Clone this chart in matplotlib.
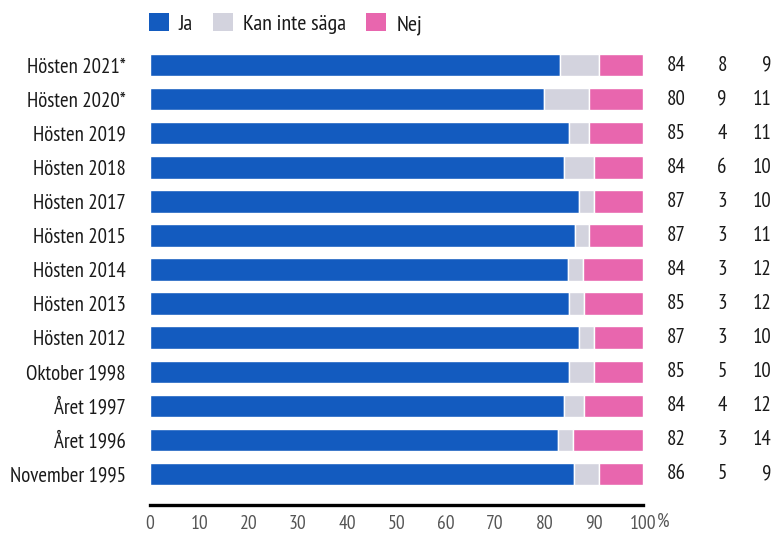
import numpy as np
import matplotlib.pyplot as plt
from matplotlib.patches import Patch

labels = ["Hösten 2021*", "Hösten 2020*", "Hösten 2019", "Hösten 2018", "Hösten 2017",
          "Hösten 2015", "Hösten 2014", "Hösten 2013", "Hösten 2012", "Oktober 1998",
          "Året 1997", "Året 1996", "November 1995"]
ja  = np.array([84, 80, 85, 84, 87, 87, 84, 85, 87, 85, 84, 82, 86])
kan = np.array([8, 9, 4, 6, 3, 3, 3, 3, 3, 5, 4, 3, 5])
nej = np.array([9, 11, 11, 10, 10, 11, 12, 12, 10, 10, 12, 14, 9])
ticks = [0, 10, 20, 30, 40, 50, 60, 70, 80, 90, 100]

c_ja, c_kan, c_nej = "#135bbf", "#d3d3de", "#e866ae"

plt.rcParams['font.family'] = ['PT Sans Narrow', 'DejaVu Sans']

# bars are scaled to 100 % (rounded figures don't always add up)
tot = ja + kan + nej
p_ja = ja / tot * 100
p_kan = kan / tot * 100
p_nej = nej / tot * 100

fig = plt.figure(figsize=(7.77, 5.34), dpi=100)
ax = fig.add_axes([150 / 777, (534 - 505) / 534, 493 / 777, (505 - 48) / 534])

y = np.arange(len(labels))
h = 0.66
ax.barh(y, p_ja, height=h, color=c_ja, edgecolor="white", linewidth=1)
ax.barh(y, p_kan, left=p_ja, height=h, color=c_kan, edgecolor="white", linewidth=1)
ax.barh(y, p_nej, left=p_ja + p_kan, height=h, color=c_nej, edgecolor="white", linewidth=1)

ax.set_xlim(0, 100)
ax.set_ylim(12.91, -0.5)
ax.set_yticks(y)
ax.set_yticklabels(labels, fontsize=15, color="#1a1a1a")
ax.set_xticks(ticks)
ax.set_xticklabels([str(t) for t in ticks], fontsize=14, color="#555555")
ax.tick_params(axis="y", length=0, pad=17.5)
ax.tick_params(axis="x", length=0, pad=7)
for s in ["top", "right", "left"]:
    ax.spines[s].set_visible(False)
ax.spines["bottom"].set_linewidth(2.4)
ax.spines["bottom"].set_color("black")

ax.text(102.9, 13.41, "%", fontsize=14, color="#555555", va="center", ha="left", clip_on=False)

# number columns
for i in range(len(labels)):
    ax.text(108.7, y[i], str(ja[i]), ha="right", va="center", fontsize=15, color="#1a1a1a", clip_on=False)
    ax.text(117.0, y[i], str(kan[i]), ha="right", va="center", fontsize=15, color="#1a1a1a", clip_on=False)
    ax.text(126.0, y[i], str(nej[i]), ha="right", va="center", fontsize=15, color="#1a1a1a", clip_on=False)

handles = [Patch(facecolor=c_ja, label="Ja"), Patch(facecolor=c_kan, label="Kan inte säga"),
           Patch(facecolor=c_nej, label="Nej")]
fig.legend(handles=handles, loc="upper left", bbox_to_anchor=(149 / 777, 1 - 13 / 534), ncol=3,
           frameon=False, fontsize=16, handlelength=0.9, handleheight=0.9, handletextpad=0.45,
           columnspacing=0.9, borderpad=0, borderaxespad=0, labelcolor="#1a1a1a")

fig.savefig("out.png", dpi=100)
